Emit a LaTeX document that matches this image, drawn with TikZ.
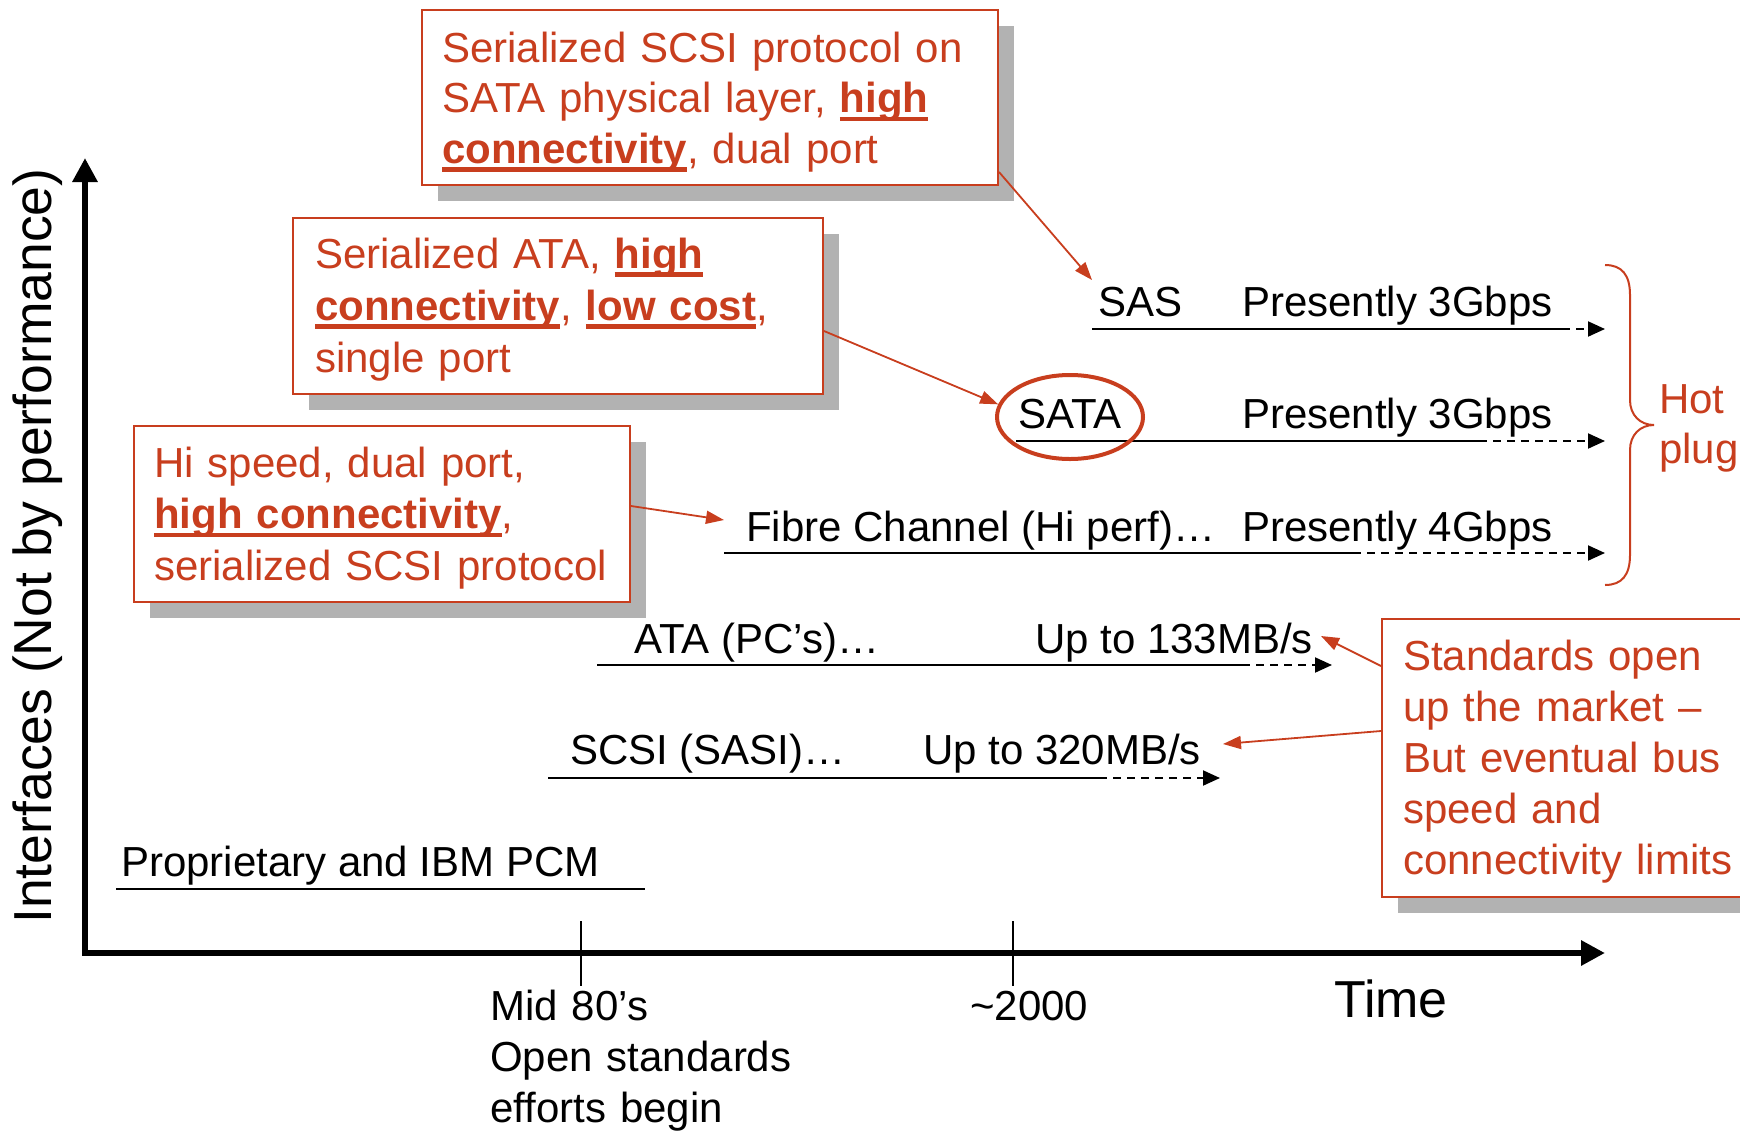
\documentclass[tikz,border=0pt]{standalone}
\usepackage{fontspec}
\setmainfont{Liberation Sans}
\usetikzlibrary{arrows.meta,shapes.geometric,shadows}
\definecolor{calloutred}{RGB}{200,62,30}
\definecolor{shadowgray}{RGB}{178,178,178}
% bold keyword with a heavy underline at a fixed depth
\newcommand\ulbold[1]{\leavevmode\setbox0=\hbox{\textbf{#1}}\rlap{\rule[-8.5pt]{\wd0}{4.5pt}}\box0}
\begin{document}
\begin{tikzpicture}[x=1pt,y=-1pt,
  callout/.style={draw=calloutred, line width=2pt, fill=white, anchor=north west,
    inner sep=0pt, drop shadow={shadow xshift=16pt, shadow yshift=-16pt,
    fill=shadowgray, opacity=1}},
  calltext/.style={anchor=base west, inner sep=0pt, text=calloutred, align=left,
    text width=600pt, font=\fontsize{42pt}{#1}\selectfont},
  rowtext/.style={anchor=base west, inner sep=0pt, font=\fontsize{42pt}{51pt}\selectfont},
  rowline/.style={line width=2pt},
  rowdash/.style={line width=2pt, dash pattern=on 8pt off 6pt,
    -{Triangle[length=17pt,width=15pt]}},
  redarrow/.style={draw=calloutred, line width=1.8pt,
    -{Triangle[length=18pt,width=13pt]}},
  axisline/.style={line width=6pt, line join=miter,
    {Triangle[length=24pt,width=24pt]}-{Triangle[length=24pt,width=24pt]}},
  tickline/.style={line width=1.5pt}]

\useasboundingbox (0,0) rectangle (1740,1130);

% axes
\coordinate (ytop) at (85,158);
\coordinate (origin) at (85,953);
\coordinate (xend) at (1605,953);
\draw[axisline] (ytop) -- (origin) -- (xend);
\node[rotate=90, anchor=base, inner sep=0pt, font=\fontsize{53.5pt}{60pt}\selectfont]
  (ylabel) at (51,546) {Interfaces (Not by performance)};
\node[anchor=base west, inner sep=0pt, font=\fontsize{52pt}{60pt}\selectfont]
  (timelabel) at (1334,1017) {Time};

% time marks
\coordinate (m80a) at (581,921); \coordinate (m80b) at (581,986);
\coordinate (y2ka) at (1013,921); \coordinate (y2kb) at (1013,986);
\draw[tickline] (m80a) -- (m80b);
\draw[tickline] (y2ka) -- (y2kb);
\node[rowtext, align=left, text width=400pt] (mid80) at (490,1020)
  {Mid 80’s\\Open standards\\efforts begin};
\node[rowtext] (y2k) at (970,1020) {\textasciitilde2000};

% interface rows
\node[rowtext] (sasname) at (1098,316) {SAS};
\node[rowtext] (sasrate) at (1242,316) {Presently 3Gbps};
\coordinate (sasA) at (1092,329); \coordinate (sasB) at (1562,329); \coordinate (sasC) at (1605,329);
\draw[rowline] (sasA) -- (sasB); \draw[rowdash] (sasB) -- (sasC);

\node[rowtext] (sataname) at (1018,428) {SATA};
\node[rowtext] (satarate) at (1242,428) {Presently 3Gbps};
\coordinate (sataA) at (1016,441); \coordinate (sataB) at (1479,441); \coordinate (sataC) at (1605,441);
\draw[rowline] (sataA) -- (sataB); \draw[rowdash] (sataB) -- (sataC);
\node[ellipse, draw=calloutred, line width=4pt, minimum width=146pt,
  minimum height=84pt, inner sep=0pt] (sataring) at (1070,417) {};

\node[rowtext] (fcname) at (746,541) {Fibre Channel (Hi perf)…};
\node[rowtext] (fcrate) at (1242,541) {Presently 4Gbps};
\coordinate (fcA) at (724,553); \coordinate (fcB) at (1353,553); \coordinate (fcC) at (1605,553);
\draw[rowline] (fcA) -- (fcB); \draw[rowdash] (fcB) -- (fcC);

\node[rowtext] (ataname) at (634,653) {ATA (PC’s)…};
\node[rowtext] (atarate) at (1035,653) {Up to 133MB/s};
\coordinate (ataA) at (597,665); \coordinate (ataB) at (1242,665); \coordinate (ataC) at (1332,665);
\draw[rowline] (ataA) -- (ataB); \draw[rowdash] (ataB) -- (ataC);

\node[rowtext] (scsiname) at (570,764) {SCSI (SASI)…};
\node[rowtext] (scsirate) at (923,764) {Up to 320MB/s};
\coordinate (scsiA) at (548,778); \coordinate (scsiB) at (1099,778); \coordinate (scsiC) at (1220,778);
\draw[rowline] (scsiA) -- (scsiB); \draw[rowdash] (scsiB) -- (scsiC);

\node[rowtext] (propname) at (121,876) {Proprietary and IBM PCM};
\coordinate (propA) at (116,889); \coordinate (propB) at (645,889);
\draw[rowline] (propA) -- (propB);

% hot plug brace
\draw[calloutred, line width=2pt]
  (1605,265) .. controls (1622,265) and (1630,275) .. (1630,295) -- (1630,400)
  .. controls (1630,415) and (1640,425) .. (1654,425)
  .. controls (1640,425) and (1630,435) .. (1630,450) -- (1630,555)
  .. controls (1630,575) and (1622,585) .. (1605,585);
\node[calltext=50pt] (hotplug) at (1659,413) {Hot\\plug};

% callouts
\node[callout, minimum width=576pt, minimum height=175pt] (sasbox) at (421,9) {};
\node[calltext=50.5pt] (sastext) at (442,62)
  {Serialized SCSI protocol on\\SATA physical layer, \ulbold{high}\\\ulbold{connectivity}, dual port};

\node[callout, minimum width=530pt, minimum height=176pt] (satabox) at (292,217) {};
\node[calltext=52pt] (satatext) at (315,268)
  {Serialized ATA, \ulbold{high}\\\ulbold{connectivity}, \ulbold{low cost},\\single port};

\node[callout, minimum width=496pt, minimum height=176pt] (fcbox) at (133,425) {};
\node[calltext=51.5pt] (fctext) at (154,477)
  {Hi speed, dual port,\\\ulbold{high connectivity},\\serialized SCSI protocol};

\node[callout, minimum width=379pt, minimum height=278pt] (stdbox) at (1381,618) {};
\node[calltext=51pt] (stdtext) at (1403,670)
  {Standards open\\up the market –\\But eventual bus\\speed and\\connectivity limits};

% callout pointers
\coordinate (sasTip) at (1092,280);
\coordinate (fcTip) at (724,520);
\coordinate (ataTip) at (1321,636);
\coordinate (scsiTip) at (1223,744);
\draw[redarrow] ([yshift=14pt]sasbox.south east) -- (sasTip);
\draw[redarrow] ([yshift=-25pt]satabox.east) -- (sataring.170);
\draw[redarrow] ([yshift=8pt]fcbox.east) -- (fcTip);
\draw[redarrow] ([yshift=92pt]stdbox.west) -- (ataTip);
\draw[redarrow] ([yshift=27pt]stdbox.west) -- (scsiTip);
\end{tikzpicture}
\end{document}
